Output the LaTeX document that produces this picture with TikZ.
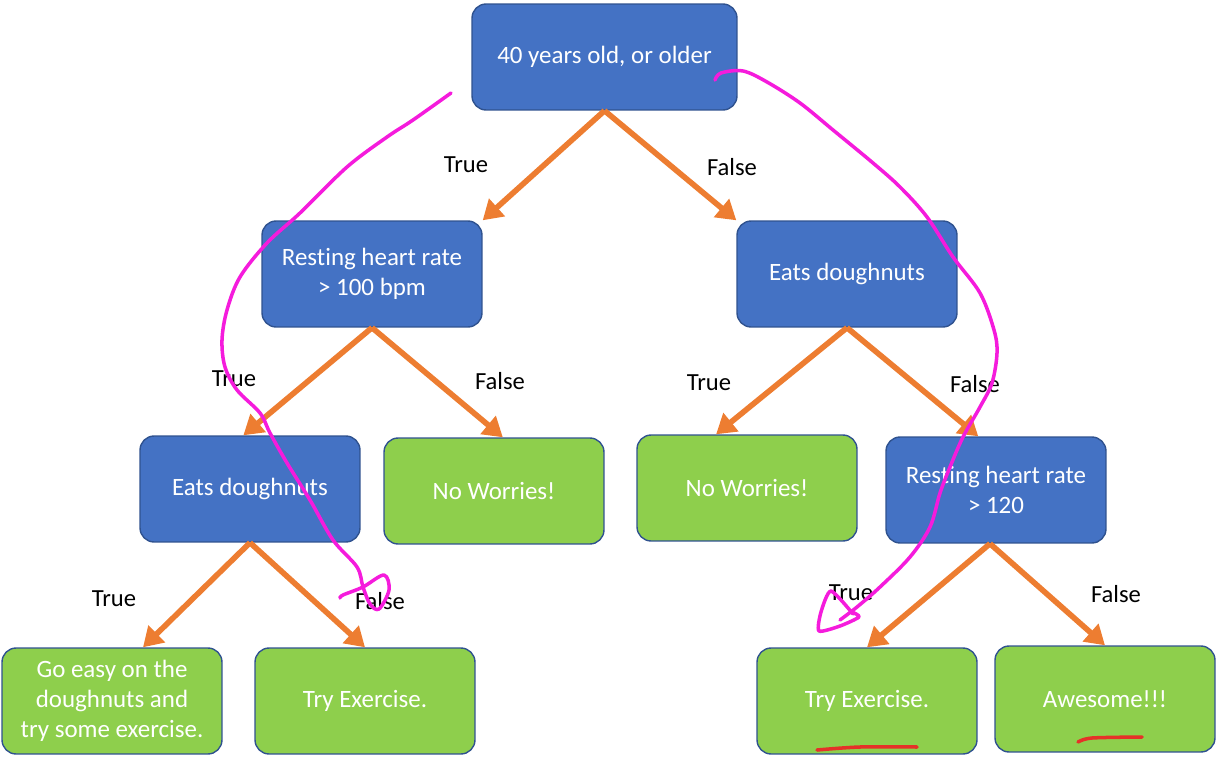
\documentclass[tikz,border=0pt]{standalone}
\usepackage{fontspec}
\setmainfont{Carlito}[Ligatures=NoCommon]
\usepackage{tikz}
\usetikzlibrary{arrows.meta}
\usetikzlibrary{calc}

\definecolor{boxblue}{HTML}{4472C4}
\definecolor{boxline}{HTML}{2F528F}
\definecolor{leafgreen}{HTML}{8ECF4C}
\definecolor{arrorange}{HTML}{ED7D31}
\definecolor{penpink}{HTML}{F51BDC}
\definecolor{penred}{HTML}{E53228}

\begin{document}
\begin{tikzpicture}[x=0.02cm, y=-0.02cm]
				\useasboundingbox (0,0) rectangle (1217,757);
				\tikzset{boxstyle/.style = {rectangle, rounded corners=8pt, draw=boxline, line width=0.8pt,
						text=white, font=\fontsize{14.2}{17}\selectfont, align=center,
						minimum width=4.4cm, minimum height=2.12cm}}
				\begin{scope}[every node/.style = {boxstyle, fill=boxblue}]
					\node[minimum width=5.3cm] (A) at (604.5,57) {40 years old, or older};
					\node (B) at (372,274) {Resting heart rate\\> 100 bpm};
					\node (C) at (847,274) {Eats doughnuts};
					\node (D) at (250,489) {Eats doughnuts};
					\node (G) at (996,490) {Resting heart rate\\> 120};
				\end{scope}
				\begin{scope}[every node/.style = {boxstyle, fill=leafgreen}]
					\node (E) at (494,491) {No Worries!};
					\node (F) at (747,488) {No Worries!};
					\node (H) at (112,701) {Go easy on the\\doughnuts and\\try some exercise.};
					\node (I) at (365,701) {Try Exercise.};
					\node (J) at (867,701) {Try Exercise.};
					\node (K) at (1105,699) {Awesome!!!};
				\end{scope}
				\begin{scope}[every node/.style = {text=black, font=\fontsize{14}{17}\selectfont}]
					\node (tA) at (466,165) {True};
					\node (fA) at (732,167) {False};
					\node (tB) at (234,379) {True};
					\node (fB) at (500,381) {False};
					\node (tC) at (709,383) {True};
					\node (fC) at (975,384) {False};
					\node (tD) at (114,599) {True};
					\node (fD) at (380,601) {False};
					\node (tG) at (851,593) {True};
					\node (fG) at (1116,594) {False};
				\end{scope}
				\begin{scope}[>={Triangle[length=11pt, width=13pt]},
						every edge/.style={draw=arrorange, line width=3.2pt}]
					\path [->] (A.south) edge (B.north east);
					\path [->] (A.south) edge (C.north west);
					\path [->] (B.south) edge ($(D.north west)!0.47!(D.north east)$);
					\path [->] (B.south) edge ($(E.north west)!0.54!(E.north east)$);
					\path [->] (C.south) edge ($(F.north west)!0.36!(F.north east)$);
					\path [->] (C.south) edge ($(G.north west)!0.42!(G.north east)$);
					\path [->] (D.south) edge ($(H.north west)!0.64!(H.north east)$);
					\path [->] (D.south) edge (I.north);
					\path [->] ($(G.south)+(-6,0)$) edge (J.north);
					\path [->] ($(G.south)+(-6,0)$) edge (K.north);
				\end{scope}
				\begin{scope}[line width=2pt, line cap=round, line join=round]
					\draw[penpink] plot[smooth, tension=0.55] coordinates {(451,93) (413,120) (387,137) (347,167)
						(300,213) (267,243) (240,277) (227,310) (222,340) (225,367) (237,390) (260,413) (270,433)
						(287,463) (310,500) (333,540) (357,567) (363,587) (370,604) (379,609) (389,590) (384,575)
						(363,587) (343,595) (340,598)};
					\draw[penpink] plot[smooth, tension=0.55] coordinates {(715,80) (721,73) (743,71) (767,82)
						(800,103) (833,130) (873,163) (900,187) (927,217) (953,257) (980,293) (994,330) (997,353)
						(992,383) (980,407) (963,437) (950,467) (940,493) (930,527) (910,557) (880,587) (857,607)
						(840,620)};
					\draw[penpink] plot[smooth, tension=0.4] coordinates {(853,614) (831,591) (821,612) (819,631)
						(840,626) (859,617) (852,612)};
					\draw[penred] plot[smooth] coordinates {(817,750) (860,747) (917,747)};
					\draw[penred] plot[smooth] coordinates {(1078,742) (1092,738) (1142,737)};
				\end{scope}
			\end{tikzpicture}
\end{document}
